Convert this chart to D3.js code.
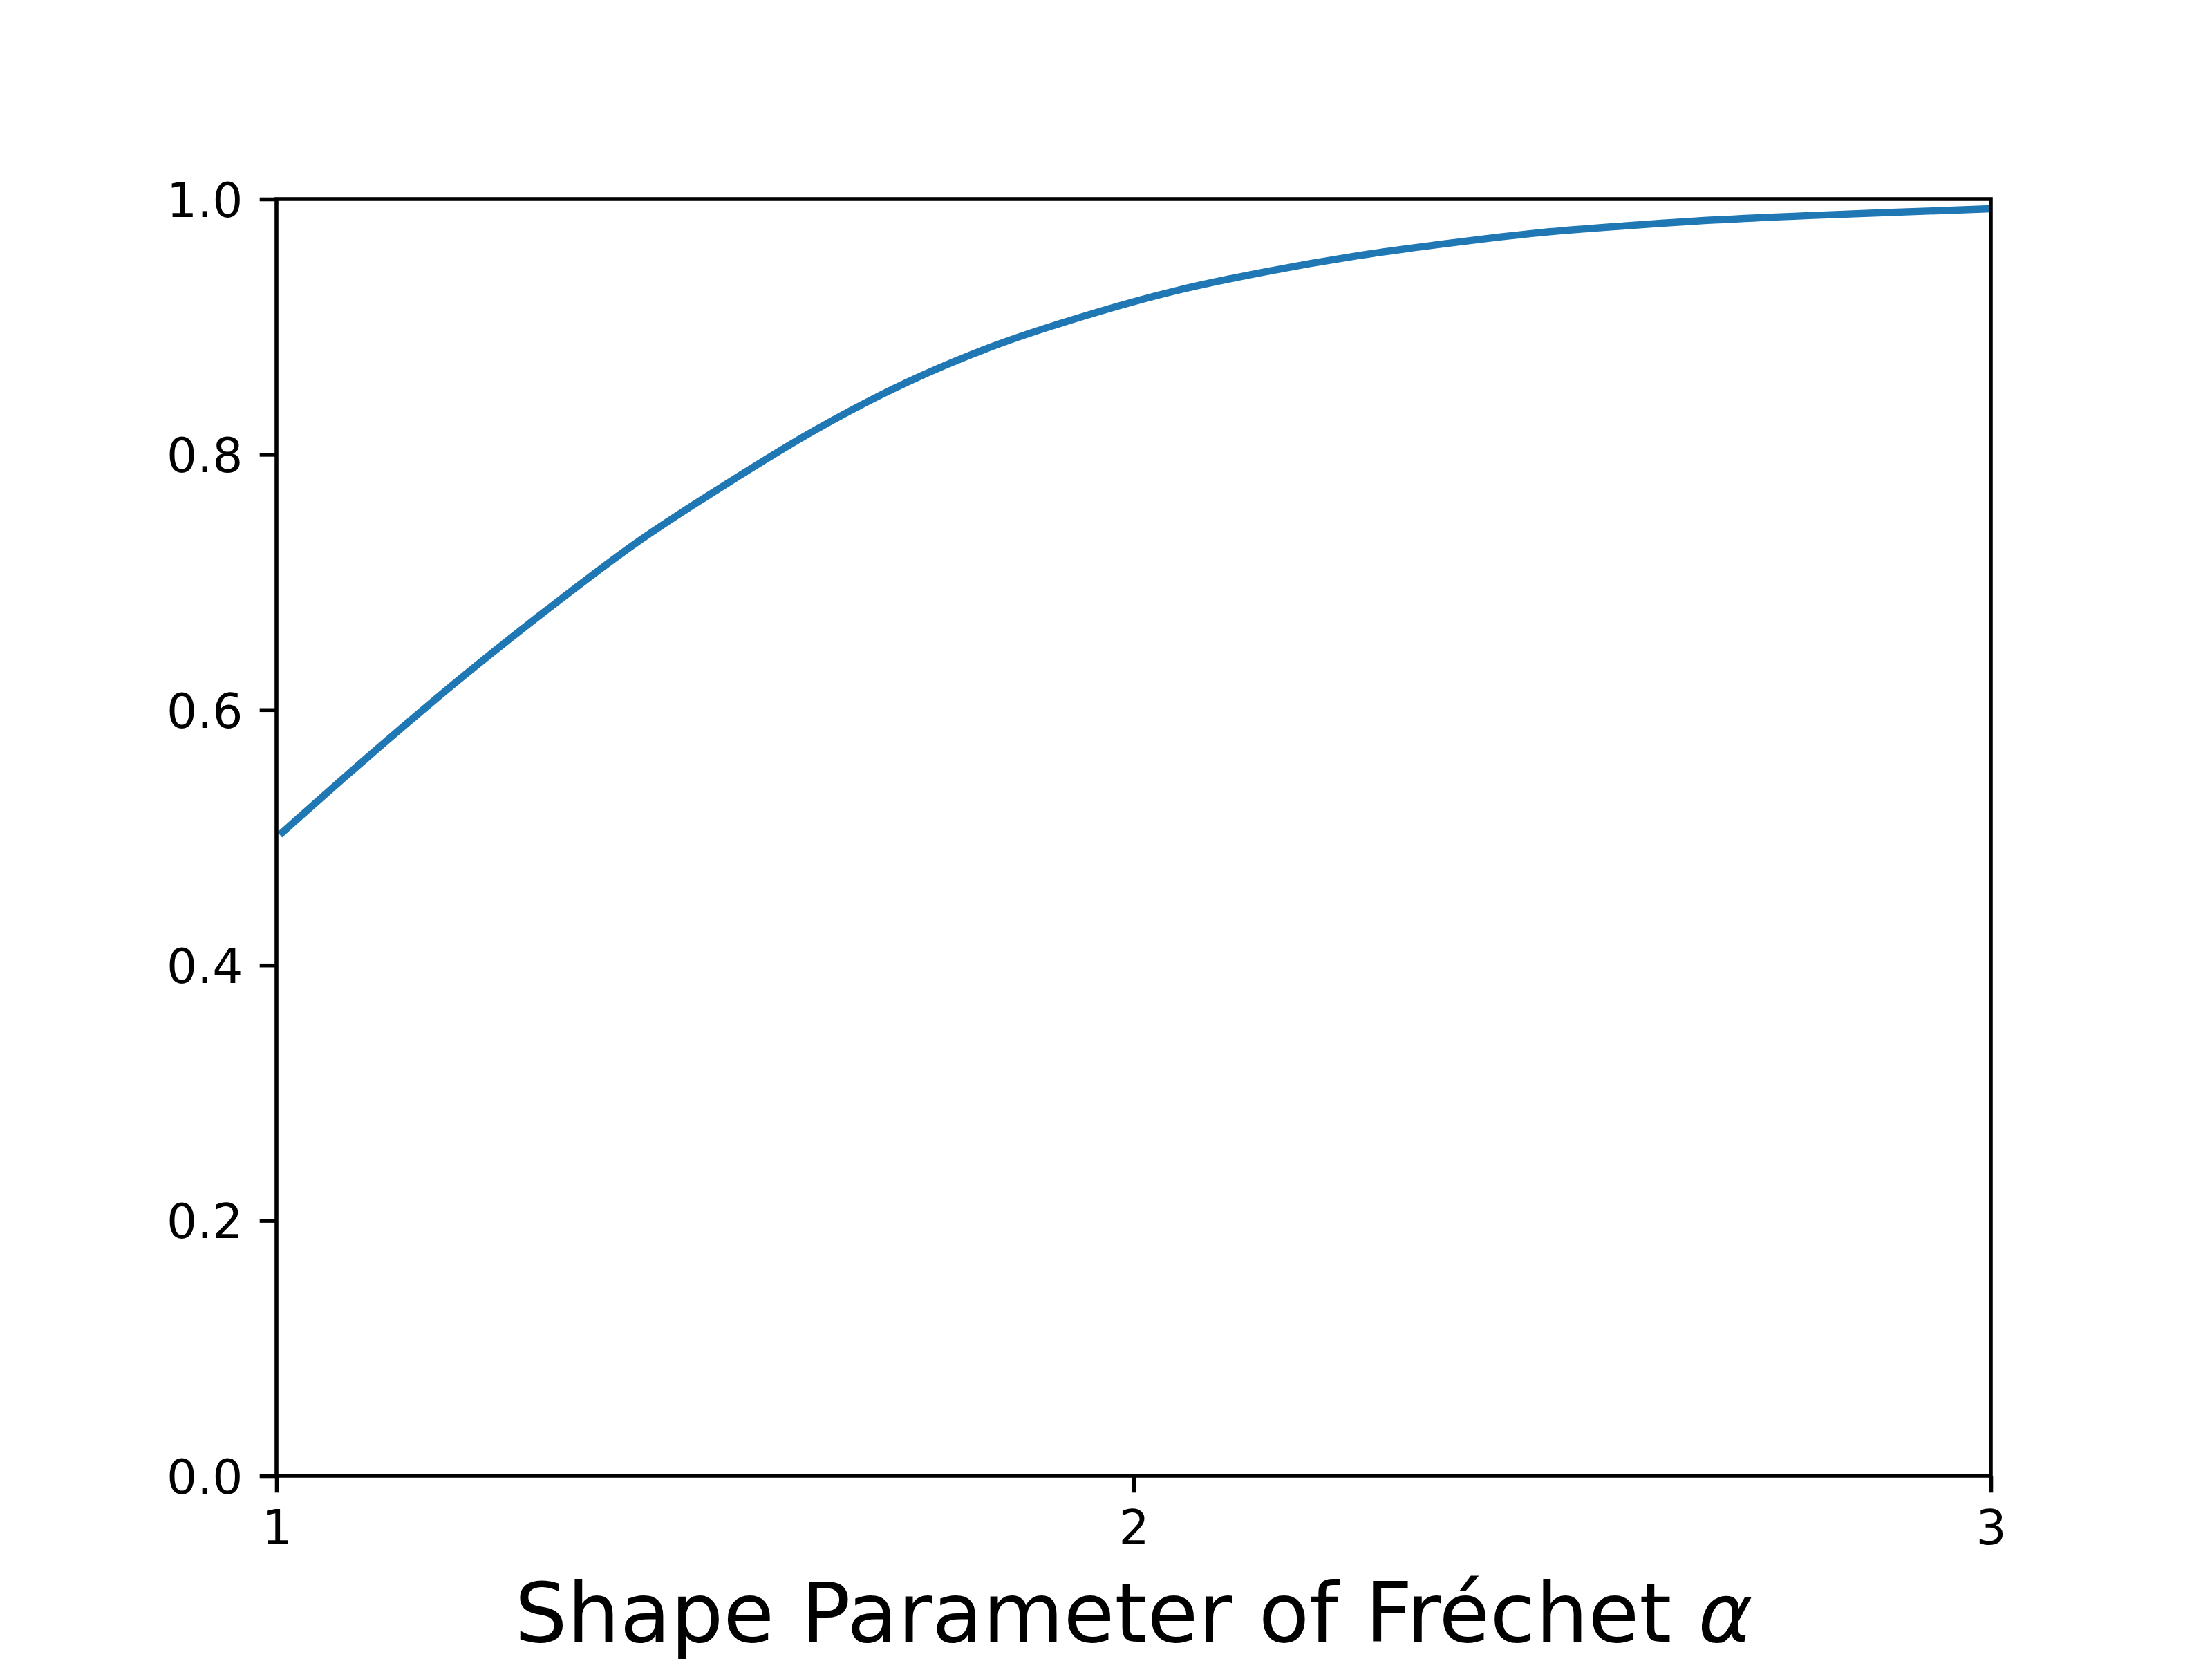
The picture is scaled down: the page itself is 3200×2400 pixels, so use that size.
<!doctype html>
<html lang="en">
<head>
<meta charset="utf-8">
<title>Shape Parameter of Fréchet α</title>
<script src="https://cdn.jsdelivr.net/npm/d3@7"></script>
<style>
  html, body { margin: 0; padding: 0; background: #fff; }
  svg { display: block; font-family: "DejaVu Sans", sans-serif; }
</style>
</head>
<body>
<div id="chart"></div>
<script>
  // values
  const alphas = [1.007, 1.11, 1.212, 1.315, 1.419, 1.524, 1.629, 1.734, 1.839, 1.944, 2.048, 2.153, 2.258, 2.363, 2.468, 2.573, 2.677, 2.793, 3.0];
  const probs  = [0.504, 0.565, 0.623, 0.678, 0.7304, 0.7765, 0.8193, 0.856, 0.8855, 0.9087, 0.928, 0.943, 0.9553, 0.965, 0.9733, 0.979, 0.9836, 0.9872, 0.9924];
  const xTicks = [1, 2, 3];
  const yTicks = [0, 0.2, 0.4, 0.6, 0.8, 1.0];
  const xLabel = 'Shape Parameter of Fréchet ';

  const width = 3200, height = 2400;
  const margin = {left: 400, right: 320, top: 288, bottom: 265};
  const pt = 500 / 72; // px per point

  const svg = d3.select('#chart').append('svg')
    .attr('width', width)
    .attr('height', height);

  const x = d3.scaleLinear().domain([1, 3]).range([margin.left, width - margin.right]);
  const y = d3.scaleLinear().domain([0, 1]).range([height - margin.bottom, margin.top]);

  svg.append('clipPath').attr('id', 'plotArea')
    .append('rect')
    .attr('x', x(1)).attr('y', y(1))
    .attr('width', x(3) - x(1)).attr('height', y(0) - y(1));

  const data = alphas.map((a, i) => ({a, p: probs[i]}));

  const line = d3.line()
    .x(d => x(d.a))
    .y(d => y(d.p))
    .curve(d3.curveCatmullRom.alpha(0.5));

  svg.append('path')
    .datum(data)
    .attr('clip-path', 'url(#plotArea)')
    .attr('fill', 'none')
    .attr('stroke', '#1f77b4')
    .attr('stroke-width', 1.5 * pt)
    .attr('stroke-linecap', 'square')
    .attr('d', line);

  const tickLen = 3.5 * pt, tickPad = 3.5 * pt, tickFont = 10 * pt;

  const xAxis = svg.append('g')
    .attr('transform', `translate(0,${y(0)})`)
    .call(d3.axisBottom(x).tickValues(xTicks).tickFormat(d3.format('d'))
      .tickSize(tickLen).tickSizeOuter(0).tickPadding(tickPad));

  const yAxis = svg.append('g')
    .attr('transform', `translate(${x(1)},0)`)
    .call(d3.axisLeft(y).tickValues(yTicks).tickFormat(d3.format('.1f'))
      .tickSize(tickLen).tickSizeOuter(0).tickPadding(tickPad));

  [xAxis, yAxis].forEach(g => {
    g.select('.domain').remove();
    g.selectAll('.tick line').attr('stroke', '#000').attr('stroke-width', 0.8 * pt);
    g.selectAll('.tick text')
      .attr('fill', '#000')
      .attr('font-family', '"DejaVu Sans", sans-serif')
      .attr('font-size', tickFont);
  });

  xAxis.selectAll('.tick text').attr('dy', null).attr('y', tickLen + tickPad + 0.729 * tickFont);
  yAxis.selectAll('.tick text').attr('dy', null).attr('y', 0.365 * tickFont);

  // frame (spines)
  svg.append('rect')
    .attr('x', x(1)).attr('y', y(1))
    .attr('width', x(3) - x(1)).attr('height', y(0) - y(1))
    .attr('fill', 'none')
    .attr('stroke', '#000')
    .attr('stroke-width', 0.8 * pt);

  const label = svg.append('text')
    .attr('x', (x(1) + x(3)) / 2)
    .attr('y', 2375)
    .attr('text-anchor', 'middle')
    .attr('font-size', 120)
    .attr('fill', '#000')
    .text(xLabel);
  label.append('tspan').attr('font-style', 'italic').text('α');
</script>
</body>
</html>
